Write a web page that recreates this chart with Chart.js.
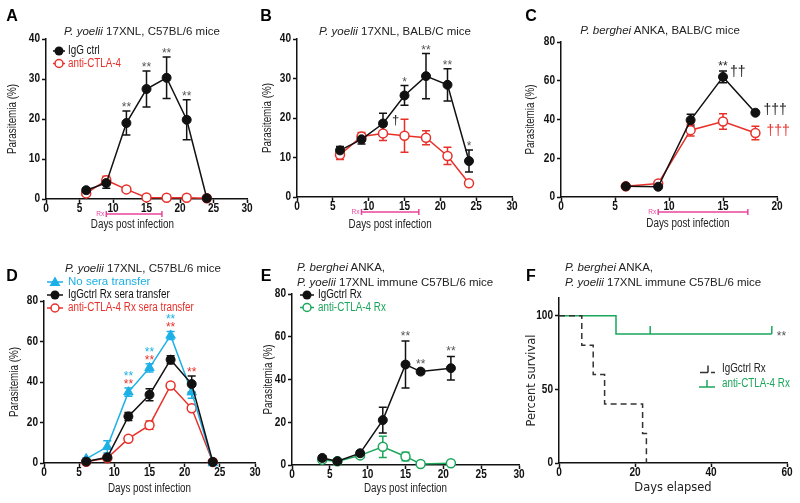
<!DOCTYPE html>
<html>
<head>
<meta charset="utf-8">
<title>CTLA-4 blockade and malaria parasitemia</title>
<script src="https://cdn.jsdelivr.net/npm/chart.js@4.4.1/dist/chart.umd.min.js"></script>
<style>
  body { margin: 0; background: #fff; }
  #fig { position: relative; width: 800px; height: 503px; overflow: hidden; font-family: "Liberation Sans", Arial, sans-serif; color: #222; }
  #fig canvas { position: absolute; left: 0; top: 0; }
  .letter { position: absolute; font-weight: bold; font-size: 16px; line-height: 16px; transform: translate(-50%, -50%); color: #000; }
  .ttl { position: absolute; font-size: 11.5px; line-height: 15px; white-space: nowrap; }
  .ttl.c { transform: translate(-50%, -50%); }
  .ttl.l { transform: translateY(-50%); }
</style>
</head>
<body>
<div id="fig">
  <canvas id="cA" width="800" height="503"></canvas>
  <canvas id="cB" width="800" height="503"></canvas>
  <canvas id="cC" width="800" height="503"></canvas>
  <canvas id="cD" width="800" height="503"></canvas>
  <canvas id="cE" width="800" height="503"></canvas>
  <canvas id="cF" width="800" height="503"></canvas>

  <div class="letter" style="left:12px;top:16px">A</div>
  <div class="letter" style="left:266px;top:16px">B</div>
  <div class="letter" style="left:531px;top:16px">C</div>
  <div class="letter" style="left:12px;top:276px">D</div>
  <div class="letter" style="left:266px;top:276px">E</div>
  <div class="letter" style="left:531px;top:276px">F</div>

  <div class="ttl c" style="left:142px;top:31px"><i>P. yoelii</i> 17XNL, C57BL/6 mice</div>
  <div class="ttl c" style="left:395px;top:31px"><i>P. yoelii</i> 17XNL, BALB/C mice</div>
  <div class="ttl c" style="left:660px;top:30px"><i>P. berghei</i> ANKA, BALB/C mice</div>
  <div class="ttl c" style="left:143px;top:268px"><i>P. yoelii</i> 17XNL, C57BL/6 mice</div>
  <div class="ttl l" style="left:297px;top:267px"><i>P. berghei</i> ANKA,</div>
  <div class="ttl l" style="left:297px;top:282px"><i>P. yoelii</i> 17XNL immune C57BL/6 mice</div>
  <div class="ttl l" style="left:565px;top:267px"><i>P. berghei</i> ANKA,</div>
  <div class="ttl l" style="left:565px;top:282px"><i>P. yoelii</i> 17XNL immune C57BL/6 mice</div>
</div>

<script>
// Panel A: P. yoelii, C57BL/6
const daysA = [6, 9, 12, 15, 18, 21, 24];
const igA = [2.2, 4.0, 19.0, 27.5, 30.3, 19.8, 0.2];
const igAErr = [0.5, 1.3, 3.0, 4.5, 5.2, 5.0, 0];
const ctlaA = [1.4, 4.7, 2.4, 0.4, 0.3, 0.3, 0.2];
const ctlaAErr = [0.3, 1.0, 0.5, 0, 0, 0, 0];
const starsA = ['', '', '**', '**', '**', '**', ''];
const rxA = [9, 17.3];

// Panel B: P. yoelii, BALB/C
const daysB = [6, 9, 12, 15, 18, 21, 24];
const igB = [11.8, 14.6, 18.6, 25.7, 30.6, 28.4, 9.1];
const igBErr = [1.0, 1.2, 2.6, 2.5, 5.7, 4.1, 2.8];
const ctlaB = [10.7, 15.3, 16.1, 15.5, 15.0, 10.4, 3.5];
const ctlaBErr = [1.2, 1.0, 1.8, 4.2, 1.8, 2.2, 0];
const starsB = ['', '', '', '*', '**', '**', '*'];
const rxB = [9, 17];

// Panel C: P. berghei, BALB/C
const daysC = [6, 9, 12, 15, 18];
const igC = [5.5, 5.3, 39.7, 62.0, 43.5];
const igCErr = [0.5, 0.8, 3.0, 3.0, 0.5];
const ctlaC = [5.5, 7.0, 34.5, 39.0, 33.0];
const ctlaCErr = [0.5, 0.5, 3.0, 4.0, 3.5];
const starsC = ['', '', '', '**', ''];
const rxC = [9, 17.3];

// Panel D: sera transfer
const daysD = [6, 9, 12, 15, 18, 21, 24];
const noSeraD = [2.0, 8.0, 35.0, 47.0, 63.0, 35.0, 0.0];
const noSeraDErr = [0.5, 3.0, 2.0, 2.0, 2.0, 3.0, 0];
const igD = [0.7, 2.8, 23.0, 33.7, 51.0, 39.0, 0.5];
const igDErr = [0.5, 0.8, 2.0, 3.0, 2.0, 4.0, 0];
const ctlaD = [0.6, 2.4, 12.0, 18.7, 38.3, 27.0, 0.5];
const ctlaDErr = [0.3, 0.5, 0.5, 2.0, 0.5, 0.5, 0];
const starsDcyan = ['', '', '**', '**', '**', '', ''];
const starsDred = ['', '', '**', '**', '**', '**', ''];

// Panel E: P. berghei in immune mice
const daysE = [4, 6, 9, 12, 15, 17, 21];
const igE = [3.3, 1.8, 5.5, 21.0, 47.0, 43.7, 45.3];
const igEErr = [1.0, 0.5, 1.0, 6.0, 11.0, 1.0, 5.5];
const ctlaE = [2.5, 1.7, 4.5, 8.5, 4.0, 0.5, 0.8];
const ctlaEErr = [0.5, 0.5, 1.0, 5.0, 2.0, 0.3, 0.3];
const starsE = ['', '', '', '', '**', '**', '**'];

// Panel F: survival
const kmIgTime = [0, 6, 9, 12, 22, 23];
const kmIgSurv = [100, 80, 60, 40, 20, 0];
const kmCtlaTime = [0, 15, 24, 56];
const kmCtlaSurv = [100, 87.5, 87.5, 87.5];
const kmCtlaCensor = [false, false, true, true];
const kmYTicks = [0, 50, 100];

// Colores y fuentes
const BLACK = '#111';
const RED = '#e8302a';
const CYAN = '#1cb0e6';
const GREEN = '#1ba65c';
const PINK = '#e6479c';
const STAR = '#555';
const sans = '"Liberation Sans", Arial, sans-serif';
const dejavu = '"DejaVu Sans", Verdana, sans-serif';
const NARROW = 0.82;

const extras = {};

function series(days, vals, errs, color, marker) {
    return {
        data: days.map((d, i) => ({ x: d, y: vals[i] })),
        errors: errs,
        borderColor: color,
        backgroundColor: color,
        borderWidth: 1.5,
        pointStyle: marker === 'tri' ? 'triangle' : 'circle',
        pointRadius: marker === 'tri' ? 5.5 : 4.5,
        pointBackgroundColor: marker === 'ring' ? '#fff' : color,
        pointBorderColor: color,
        pointBorderWidth: marker === 'ring' ? 1.5 : 1,
        pointHoverRadius: 0,
        tension: 0,
        clip: false
    };
}

// Estrellas encima de la barra de error mas alta
function starNotes(days, vals, errs, labels, color, lift) {
    const out = [];
    labels.forEach((t, i) => {
        if (!t) return;
        const top = Math.max(...vals.map((v, k) => v[i] + (errs[k][i] || 0)));
        out.push({ x: days[i], y: top, text: t, color: color, dy: -lift, kind: 'star' });
    });
    return out;
}

// Texto estrecho (tipo Arial Narrow) escalando en horizontal
function squeeze(ctx, text, x, y, font, color, align, sx, rotate) {
    ctx.save();
    ctx.translate(x, y);
    if (rotate) ctx.rotate(-Math.PI / 2);
    ctx.scale(sx, 1);
    ctx.font = font;
    ctx.fillStyle = color;
    ctx.textAlign = align;
    ctx.textBaseline = 'middle';
    ctx.fillText(text, 0, 0);
    ctx.restore();
}

function drawMarker(ctx, kind, x, y, color) {
    ctx.save();
    ctx.strokeStyle = color;
    ctx.fillStyle = color;
    ctx.lineWidth = 1.5;
    ctx.beginPath();
    if (kind === 'dot') {
        ctx.arc(x, y, 4.5, 0, Math.PI * 2);
        ctx.fill();
    } else if (kind === 'ring') {
        ctx.arc(x, y, 4, 0, Math.PI * 2);
        ctx.fillStyle = '#fff';
        ctx.fill();
        ctx.stroke();
    } else if (kind === 'tri') {
        ctx.moveTo(x, y - 5.5);
        ctx.lineTo(x + 5.5, y + 4);
        ctx.lineTo(x - 5.5, y + 4);
        ctx.closePath();
        ctx.fill();
    }
    ctx.restore();
}

const extrasPlugin = {
    id: 'extras',
    beforeDatasetsDraw(chart) {
        // Barras de error
        const ctx = chart.ctx, xs = chart.scales.x, ys = chart.scales.y;
        chart.data.datasets.forEach(ds => {
            if (!ds.errors) return;
            ctx.save();
            ctx.strokeStyle = ds.borderColor;
            ctx.lineWidth = 1.5;
            ds.data.forEach((p, j) => {
                const e = ds.errors[j];
                if (!e) return;
                const x = xs.getPixelForValue(p.x);
                const y1 = ys.getPixelForValue(p.y + e);
                const y2 = ys.getPixelForValue(Math.max(p.y - e, 0));
                ctx.beginPath();
                ctx.moveTo(x, y1); ctx.lineTo(x, y2);
                ctx.moveTo(x - 4, y1); ctx.lineTo(x + 4, y1);
                ctx.moveTo(x - 4, y2); ctx.lineTo(x + 4, y2);
                ctx.stroke();
            });
            ctx.restore();
        });
    },
    afterDraw(chart) {
        const ex = extras[chart.canvas.id];
        if (!ex) return;
        const ctx = chart.ctx, xs = chart.scales.x, ys = chart.scales.y, area = chart.chartArea;
        const tickFont = 'bold 12px ' + sans;

        // Etiquetas de los ticks
        xs.ticks.forEach(t => {
            squeeze(ctx, String(t.value), xs.getPixelForValue(t.value), area.bottom + 10, tickFont, '#111', 'center', 0.84);
        });
        ys.ticks.forEach(t => {
            squeeze(ctx, String(t.value), area.left - 6, ys.getPixelForValue(t.value), tickFont, '#111', 'right', 0.84);
        });

        // Titulos de los ejes
        const yt = ex.yTitle;
        squeeze(ctx, yt.text, yt.x, (area.top + area.bottom) / 2, yt.font, '#222', 'center', yt.plain ? 1 : NARROW, true);
        const xt = ex.xTitle;
        squeeze(ctx, xt.text, xs.getPixelForValue(xt.at), xt.y, xt.font, '#222', 'center', xt.plain ? 1 : NARROW);

        // Periodo de tratamiento (Rx)
        if (ex.rx) {
            const y = area.bottom + 15;
            const a = xs.getPixelForValue(ex.rx[0]), b = xs.getPixelForValue(ex.rx[1]);
            ctx.save();
            ctx.strokeStyle = PINK;
            ctx.lineWidth = 1.5;
            ctx.beginPath();
            ctx.moveTo(a, y); ctx.lineTo(b, y);
            ctx.moveTo(a, y - 3); ctx.lineTo(a, y + 3);
            ctx.moveTo(b, y - 3); ctx.lineTo(b, y + 3);
            ctx.stroke();
            ctx.restore();
            squeeze(ctx, 'Rx', a - 2, y, '8px ' + sans, PINK, 'right', NARROW);
        }

        // Asteriscos y cruces
        ctx.save();
        (ex.notes || []).forEach(n => {
            const x = xs.getPixelForValue(n.x) + (n.dx || 0);
            const y = ys.getPixelForValue(n.y) + (n.dy || 0);
            ctx.fillStyle = n.color;
            ctx.textAlign = n.align || 'center';
            if (n.kind === 'star') {
                ctx.font = '12px ' + sans;
                ctx.textBaseline = 'alphabetic';
                ctx.fillText(n.text, x, y + 7);
            } else {
                ctx.font = (n.size || 13) + 'px ' + sans;
                ctx.textBaseline = 'middle';
                ctx.fillText(n.text, x, y);
            }
        });
        ctx.restore();

        // Leyenda
        if (ex.legend) {
            const lg = ex.legend;
            lg.items.forEach((it, i) => {
                const y = lg.y + i * lg.rowH;
                ctx.save();
                ctx.strokeStyle = it.color;
                ctx.lineWidth = 1.5;
                ctx.beginPath();
                if (it.marker === 'kmDash') {
                    const base = y + 3.5;
                    ctx.moveTo(lg.x - 7, base); ctx.lineTo(lg.x + 1, base);
                    ctx.moveTo(lg.x + 4, base); ctx.lineTo(lg.x + 8, base);
                    ctx.moveTo(lg.x + 1, base); ctx.lineTo(lg.x + 1, base - 7);
                } else if (it.marker === 'kmSolid') {
                    const base = y + 3.5;
                    ctx.moveTo(lg.x - 8, base); ctx.lineTo(lg.x + 8, base);
                    ctx.moveTo(lg.x, base); ctx.lineTo(lg.x, base - 7);
                } else {
                    ctx.moveTo(lg.x - lg.half, y); ctx.lineTo(lg.x + lg.half, y);
                }
                ctx.stroke();
                ctx.restore();
                drawMarker(ctx, it.marker, lg.x, y, it.color);
                squeeze(ctx, it.text, lg.textX, y, it.font || ('12px ' + sans), it.textColor || it.color, 'left', it.plain ? 1 : NARROW);
            });
        }
    }
};
Chart.register(extrasPlugin);

function axisStyle() {
    return {
        ticks: { display: false, autoSkip: false },
        grid: { drawOnChartArea: false, drawTicks: true, tickLength: 4, tickWidth: 1.5, tickColor: '#111' },
        border: { color: '#111', width: 1.5 }
    };
}

// Crea un panel con el area del grafico fijada en pixeles
function makePanel(id, p) {
    extras[id] = p.extras;
    const xStyle = axisStyle(), yStyle = axisStyle();
    xStyle.ticks.stepSize = p.xRange[2];
    yStyle.ticks.stepSize = p.yRange[2];
    return new Chart(document.getElementById(id), {
        type: 'line',
        data: { datasets: p.datasets },
        options: {
            responsive: false,
            maintainAspectRatio: false,
            animation: false,
            events: [],
            layout: { padding: { left: 0, top: p.area.top, right: 800 - p.area.right, bottom: 0 } },
            plugins: { legend: { display: false }, tooltip: { enabled: false }, title: { display: false } },
            scales: {
                x: {
                    type: 'linear',
                    min: p.xRange[0],
                    max: p.xRange[1],
                    ...xStyle,
                    afterFit: s => { s.height = 503 - p.area.bottom; }
                },
                y: {
                    type: 'linear',
                    min: p.yRange[0],
                    max: p.yRange[1],
                    ...yStyle,
                    afterFit: s => { s.width = p.area.left; },
                    afterBuildTicks: s => {
                        if (p.yTicks) s.ticks = p.yTicks.map(v => ({ value: v }));
                    }
                }
            }
        }
    });
}

const yFont = '12px ' + sans;
const xFont = '12px ' + sans;

makePanel('cA', {
    area: { left: 46, right: 247, top: 39, bottom: 199 },
    xRange: [0, 30, 5], yRange: [0, 40, 10],
    datasets: [series(daysA, igA, igAErr, BLACK, 'dot'), series(daysA, ctlaA, ctlaAErr, RED, 'ring')],
    extras: {
        yTitle: { text: 'Parasitemia (%)', x: 13, font: yFont },
        xTitle: { text: 'Days post infection', at: 12.9, y: 225, font: xFont },
        rx: rxA,
        notes: starNotes(daysA, [igA, ctlaA], [igAErr, ctlaAErr], starsA, STAR, 7),
        legend: {
            x: 59, y: 51, rowH: 12.5, half: 6, textX: 68,
            items: [
                { text: 'IgG ctrl', color: BLACK, marker: 'dot' },
                { text: 'anti-CTLA-4', color: RED, marker: 'ring' }
            ]
        }
    }
});

makePanel('cB', {
    area: { left: 297, right: 512, top: 39, bottom: 197 },
    xRange: [0, 30, 5], yRange: [0, 40, 10],
    datasets: [series(daysB, igB, igBErr, BLACK, 'dot'), series(daysB, ctlaB, ctlaBErr, RED, 'ring')],
    extras: {
        yTitle: { text: 'Parasitemia (%)', x: 268, font: yFont },
        xTitle: { text: 'Days post infection', at: 13, y: 225, font: xFont },
        rx: rxB,
        notes: starNotes(daysB, [igB, ctlaB], [igBErr, ctlaBErr], starsB, STAR, 7)
            .concat([{ x: daysB[2], y: igB[2], text: '\u2020', color: '#222', dx: 9, dy: -3, align: 'left' }])
    }
});

makePanel('cC', {
    area: { left: 561, right: 777, top: 42, bottom: 197 },
    xRange: [0, 20, 5], yRange: [0, 80, 20],
    datasets: [series(daysC, igC, igCErr, BLACK, 'dot'), series(daysC, ctlaC, ctlaCErr, RED, 'ring')],
    extras: {
        yTitle: { text: 'Parasitemia (%)', x: 531, font: yFont },
        xTitle: { text: 'Days post infection', at: 11.75, y: 224, font: xFont },
        rx: rxC,
        notes: starNotes(daysC, [igC, ctlaC], [igCErr, ctlaCErr], starsC, '#222', 8).concat([
            { x: daysC[3], y: igC[3], text: '\u2020\u2020', color: '#222', dx: 7, dy: -5, align: 'left', size: 14 },
            { x: daysC[4], y: igC[4], text: '\u2020\u2020\u2020', color: '#222', dx: 8, dy: -3, align: 'left', size: 14 },
            { x: daysC[4], y: ctlaC[4], text: '\u2020\u2020\u2020', color: RED, dx: 11, dy: -2, align: 'left', size: 14 }
        ])
    }
});

makePanel('cD', {
    area: { left: 44, right: 255, top: 301, bottom: 463 },
    xRange: [0, 30, 5], yRange: [0, 80, 20],
    datasets: [
        series(daysD, igD, igDErr, BLACK, 'dot'),
        series(daysD, noSeraD, noSeraDErr, CYAN, 'tri'),
        series(daysD, ctlaD, ctlaDErr, RED, 'ring')
    ],
    extras: {
        yTitle: { text: 'Parasitemia (%)', x: 15, font: yFont },
        xTitle: { text: 'Days post infection', at: 15, y: 489, font: xFont },
        notes: starNotes(daysD, [noSeraD, igD, ctlaD], [noSeraDErr, igDErr, ctlaDErr], starsDred, RED, 7)
            .concat(starNotes(daysD, [noSeraD, igD, ctlaD], [noSeraDErr, igDErr, ctlaDErr], starsDcyan, CYAN, 15)),
        legend: {
            x: 55, y: 282, rowH: 13, half: 8, textX: 68,
            items: [
                { text: 'No sera transfer', color: CYAN, marker: 'tri', font: '11.5px ' + sans, plain: true },
                { text: 'IgGctrl Rx sera transfer', color: BLACK, marker: 'dot' },
                { text: 'anti-CTLA-4 Rx sera transfer', color: RED, marker: 'ring' }
            ]
        }
    }
});

makePanel('cE', {
    area: { left: 292, right: 519, top: 294, bottom: 465 },
    xRange: [0, 30, 5], yRange: [0, 80, 20],
    datasets: [series(daysE, igE, igEErr, BLACK, 'dot'), series(daysE, ctlaE, ctlaEErr, GREEN, 'ring')],
    extras: {
        yTitle: { text: 'Parasitemia (%)', x: 269, font: yFont },
        xTitle: { text: 'Days post infection', at: 15, y: 489, font: xFont },
        notes: starNotes(daysE, [igE, ctlaE], [igEErr, ctlaEErr], starsE, STAR, 8),
        legend: {
            x: 307, y: 295, rowH: 12.5, half: 7, textX: 318,
            items: [
                { text: 'IgGctrl Rx', color: BLACK, marker: 'dot' },
                { text: 'anti-CTLA-4 Rx', color: GREEN, marker: 'ring' }
            ]
        }
    }
});

makePanel('cF', {
    area: { left: 559, right: 787, top: 298, bottom: 463 },
    xRange: [0, 60, 20], yRange: [0, 112, 50], yTicks: kmYTicks,
    datasets: [
        {
            data: kmIgTime.map((t, i) => ({ x: t, y: kmIgSurv[i] })),
            stepped: 'before',
            borderColor: '#333',
            borderWidth: 1.5,
            borderDash: [6, 4],
            pointRadius: 0,
            clip: false
        },
        {
            data: kmCtlaTime.map((t, i) => ({ x: t, y: kmCtlaSurv[i] })),
            stepped: 'before',
            borderColor: GREEN,
            borderWidth: 1.5,
            pointStyle: 'dash',
            rotation: -90,
            pointRadius: kmCtlaCensor.map(c => c ? 8 : 0),
            pointBorderColor: GREEN,
            pointBorderWidth: 1.5,
            pointHoverRadius: 0,
            clip: false
        }
    ],
    extras: {
        yTitle: { text: 'Percent survival', x: 532, font: '11.5px ' + dejavu, plain: true },
        xTitle: { text: 'Days elapsed', at: 30, y: 488, font: '11.5px ' + dejavu, plain: true },
        notes: [{ x: kmCtlaTime[3], y: kmCtlaSurv[3], text: '**', color: STAR, dx: 5, dy: -1, align: 'left', kind: 'star' }],
        legend: {
            x: 707, y: 369, rowH: 14.5, half: 8, textX: 722,
            items: [
                { text: 'IgGctrl Rx', color: '#333', marker: 'kmDash', textColor: '#222' },
                { text: 'anti-CTLA-4 Rx', color: GREEN, marker: 'kmSolid' }
            ]
        }
    }
});
</script>
</body>
</html>
